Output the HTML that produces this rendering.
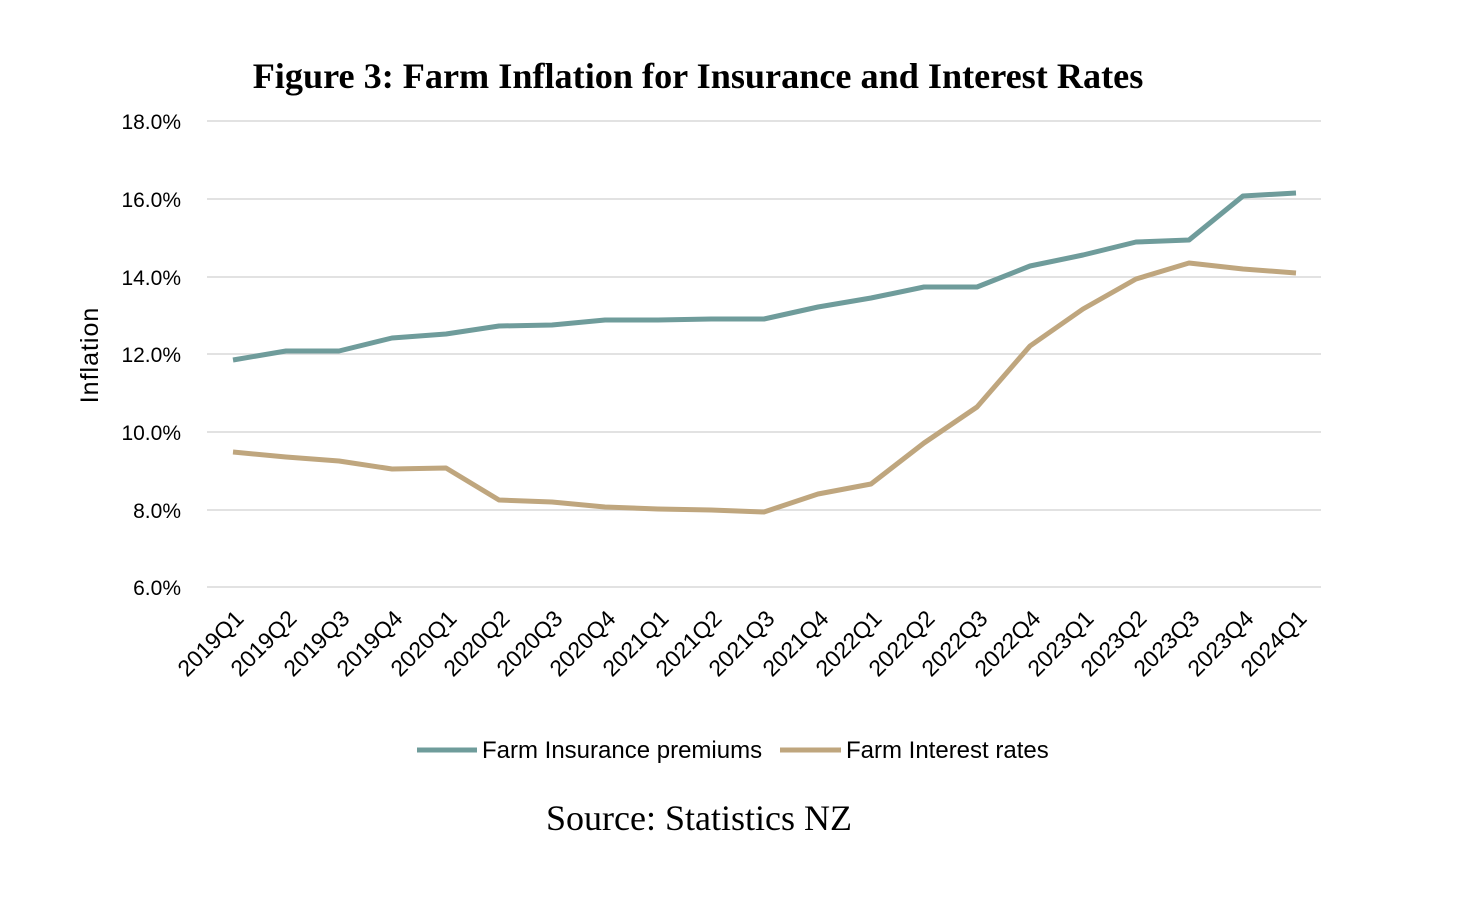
<!DOCTYPE html>
<html><head><style>body{margin:0;background:#fff}</style></head><body>
<svg width="1470" height="896" xmlns="http://www.w3.org/2000/svg">
<text x="698" y="88" text-anchor="middle" font-family="Liberation Serif, serif" font-weight="bold" font-size="36.2" fill="#000">Figure 3: Farm Inflation for Insurance and Interest Rates</text>
<g stroke="#d9d9d9" stroke-width="1.5">
<line x1="207" x2="1321" y1="121" y2="121"/><line x1="207" x2="1321" y1="199" y2="199"/><line x1="207" x2="1321" y1="277" y2="277"/><line x1="207" x2="1321" y1="354" y2="354"/><line x1="207" x2="1321" y1="432" y2="432"/><line x1="207" x2="1321" y1="510" y2="510"/><line x1="207" x2="1321" y1="587" y2="587"/>
</g>
<g font-family="Liberation Sans, sans-serif" font-size="21" fill="#000" text-anchor="end">
<text x="181" y="129">18.0%</text><text x="181" y="207">16.0%</text><text x="181" y="285">14.0%</text><text x="181" y="362">12.0%</text><text x="181" y="440">10.0%</text><text x="181" y="518">8.0%</text><text x="181" y="595">6.0%</text>
</g>
<text transform="translate(98,355) rotate(-90)" text-anchor="middle" font-family="Liberation Sans, sans-serif" font-size="25" letter-spacing="1">Inflation</text>
<polyline fill="none" stroke="#6f9c9b" stroke-width="5" stroke-linejoin="round" points="233,360 286,351 339,351 392,338 446,334 499,326 552,325 605,320 658,320 711,319 764,319 818,307 871,298 924,287 977,287 1030,266 1083,255 1136,242 1189,240 1243,196 1296,193"/>
<polyline fill="none" stroke="#bfa67e" stroke-width="5" stroke-linejoin="round" points="233,452 286,457 339,461 392,469 446,468 499,500 552,502 605,507 658,509 711,510 764,512 818,494 871,484 924,443 977,407 1030,346 1083,309 1136,279 1189,263 1243,269 1296,273"/>
<g font-family="Liberation Sans, sans-serif" font-size="23" fill="#000" text-anchor="end">
<text transform="translate(245,620) rotate(-45)">2019Q1</text>
<text transform="translate(298,620) rotate(-45)">2019Q2</text>
<text transform="translate(351,620) rotate(-45)">2019Q3</text>
<text transform="translate(404,620) rotate(-45)">2019Q4</text>
<text transform="translate(458,620) rotate(-45)">2020Q1</text>
<text transform="translate(511,620) rotate(-45)">2020Q2</text>
<text transform="translate(564,620) rotate(-45)">2020Q3</text>
<text transform="translate(617,620) rotate(-45)">2020Q4</text>
<text transform="translate(670,620) rotate(-45)">2021Q1</text>
<text transform="translate(723,620) rotate(-45)">2021Q2</text>
<text transform="translate(776,620) rotate(-45)">2021Q3</text>
<text transform="translate(830,620) rotate(-45)">2021Q4</text>
<text transform="translate(883,620) rotate(-45)">2022Q1</text>
<text transform="translate(936,620) rotate(-45)">2022Q2</text>
<text transform="translate(989,620) rotate(-45)">2022Q3</text>
<text transform="translate(1042,620) rotate(-45)">2022Q4</text>
<text transform="translate(1095,620) rotate(-45)">2023Q1</text>
<text transform="translate(1148,620) rotate(-45)">2023Q2</text>
<text transform="translate(1201,620) rotate(-45)">2023Q3</text>
<text transform="translate(1255,620) rotate(-45)">2023Q4</text>
<text transform="translate(1308,620) rotate(-45)">2024Q1</text>
</g>
<line x1="417" x2="477" y1="750" y2="750" stroke="#6f9c9b" stroke-width="5"/>
<text x="482" y="758" font-family="Liberation Sans, sans-serif" font-size="24">Farm Insurance premiums</text>
<line x1="780" x2="841" y1="750" y2="750" stroke="#bfa67e" stroke-width="5"/>
<text x="846" y="758" font-family="Liberation Sans, sans-serif" font-size="24">Farm Interest rates</text>
<text x="699" y="830" text-anchor="middle" font-family="Liberation Serif, serif" font-size="36">Source: Statistics NZ</text>
</svg>
</body></html>
